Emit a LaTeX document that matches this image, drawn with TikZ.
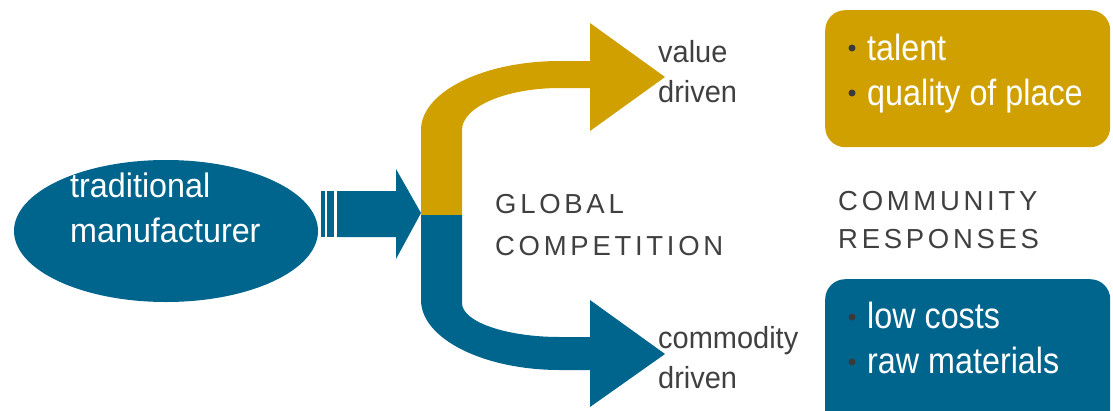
\documentclass[tikz,border=0pt]{standalone}
\usepackage{fontspec}
\setmainfont{Liberation Sans}
\newfontfamily\boxfont{Liberation Sans}[FakeStretch=0.885]
\newfontfamily\ovalfont{Liberation Sans}[FakeStretch=0.95]
\newfontfamily\branchfont{Liberation Sans}[FakeStretch=0.95]
\newfontfamily\capsfont{Liberation Sans}[LetterSpace=13.5]
\usetikzlibrary{shapes.geometric}

\definecolor{tealblue}{RGB}{0,101,140}
\definecolor{gold}{RGB}{207,160,0}
\definecolor{textgray}{RGB}{64,64,64}
\definecolor{bulletgray}{RGB}{58,58,58}

\tikzset{
  label text/.style={inner sep=0pt, anchor=base west},
  oval text/.style={label text, text=white, font=\ovalfont\fontsize{34}{45}\selectfont},
  caps text/.style={label text, text=textgray, font=\capsfont\fontsize{27.5}{42}\selectfont},
  branch text/.style={label text, text=textgray, font=\branchfont\fontsize{30.5}{40}\selectfont},
  item text/.style={label text, text=white, font=\boxfont\fontsize{36.5}{45}\selectfont},
  bulletdot/.style={circle, fill=bulletgray, inner sep=0pt, minimum size=7pt},
  responsebox/.style={rounded corners=20pt, inner sep=0pt, anchor=north west, minimum width=285pt},
}

\begin{document}
\begin{tikzpicture}[x=1pt,y=-1pt]
\useasboundingbox (0,0) rectangle (1113,410);
\clip (0,0) rectangle (1113,410);

% the manufacturer
\node[ellipse, fill=tealblue, inner sep=0pt, minimum width=304pt, minimum height=142pt] (maker) at (166,231) {};
\node[oval text] (maker1) at (70,197) {traditional};
\node[oval text] (maker2) at (70,242) {manufacturer};

% striped arrow into the fork
\fill[tealblue] (321,191) rectangle (325,237);
\fill[tealblue] (327,191) rectangle (334,237);
\fill[tealblue] (337,191) -- (396,191) -- (396,169) -- (421,213) -- (396,259) -- (396,237) -- (337,237) -- cycle;

% upper branch: value driven
\fill[gold] (421,215) -- (421,130) .. controls (421,91.9) and (483.3,61) .. (560,61)
  -- (590,61) -- (590,23) -- (665,77) -- (590,131) -- (590,88) -- (560,88)
  .. controls (505.9,88) and (462,106.8) .. (462,130) -- (462,215) -- cycle;

% lower branch: commodity driven
\fill[tealblue] (421,215) -- (421,300) .. controls (421,338.6) and (483.3,370) .. (560,370)
  -- (590,370) -- (590,407) -- (665,354) -- (590,300) -- (590,337) -- (560,337)
  .. controls (505.9,337) and (462,321.8) .. (462,303) -- (462,215) -- cycle;

% branch labels
\node[branch text] (value1) at (658,62) {value};
\node[branch text] (value2) at (658,102) {driven};
\node[branch text] (commodity1) at (658,348) {commodity};
\node[branch text] (commodity2) at (658,388) {driven};

% column headings
\node[caps text] (global1) at (495,213) {GLOBAL};
\node[caps text] (global2) at (495,255) {COMPETITION};
\node[caps text] (community1) at (838,210) {COMMUNITY};
\node[caps text] (community2) at (838,248) {RESPONSES};

% community responses
\node[responsebox, fill=gold, minimum height=137pt] (valuebox) at (825,10) {};
\node[responsebox, fill=tealblue, minimum height=160pt] (costbox) at (825,279) {};

\node[bulletdot] (b1) at (852,48) {};
\node[item text] (talent) at (867,60) {talent};
\node[bulletdot] (b2) at (852,93) {};
\node[item text] (place) at (867,105) {quality of place};

\node[bulletdot] (b3) at (852,317) {};
\node[item text] (costs) at (867,328) {low costs};
\node[bulletdot] (b4) at (852,362) {};
\node[item text] (materials) at (867,373) {raw materials};
\end{tikzpicture}
\end{document}
